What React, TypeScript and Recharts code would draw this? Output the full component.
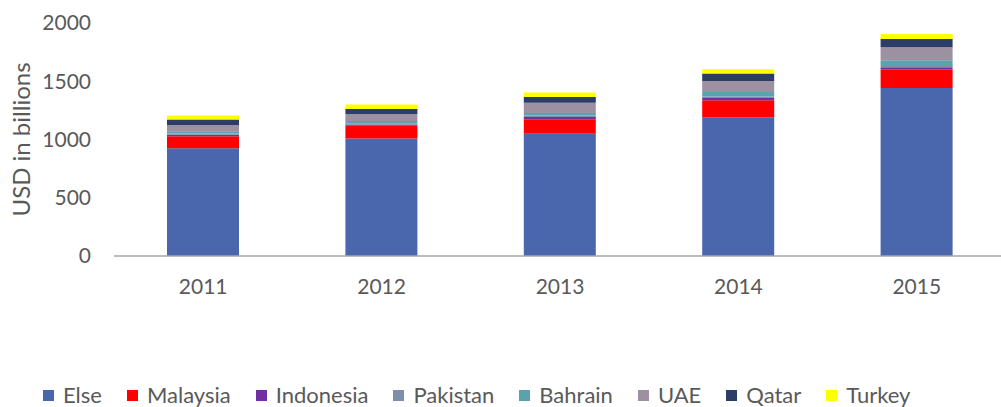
import { BarChart, Bar, XAxis, YAxis, Label } from 'recharts';

const years = ['2011', '2012', '2013', '2014', '2015'];

const elseVals = [925, 1008, 1049, 1191, 1442];
const malaysia = [103, 109, 125, 145, 156];
const indonesia = [12, 12, 20, 20, 23];
const pakistan = [11, 10, 11, 14, 9];
const bahrain = [20, 19, 23, 38, 51];
const uae = [51, 60, 88, 94, 111];
const qatar = [49, 43, 49, 65, 71];
const turkey = [34, 40, 39, 37, 43];

const series = [
  { key: 'Else', values: elseVals, color: '#4A66AC' },
  { key: 'Malaysia', values: malaysia, color: '#FF0000' },
  { key: 'Indonesia', values: indonesia, color: '#7030A0' },
  { key: 'Pakistan', values: pakistan, color: '#7F8FA9' },
  { key: 'Bahrain', values: bahrain, color: '#5AA2AE' },
  { key: 'UAE', values: uae, color: '#9D90A0' },
  { key: 'Qatar', values: qatar, color: '#2C3D67' },
  { key: 'Turkey', values: turkey, color: '#FFFF00' },
];

const yTicks = [0, 500, 1000, 1500, 2000];

const data = years.map((year, i) => {
  const row: Record<string, string | number> = { year };
  series.forEach((s) => {
    row[s.key] = s.values[i];
  });
  return row;
});

const font = 'Lato, "Open Sans", sans-serif';
const textColor = '#595959';

export default function App() {
  return (
    <div
      style={{
        position: 'absolute',
        left: 0,
        top: 0,
        width: 1001,
        height: 407,
        overflow: 'hidden',
        background: '#fff',
        fontFamily: font,
      }}
    >
      <BarChart
        width={1010}
        height={407}
        data={data}
        margin={{ top: 23, right: 4, left: 0, bottom: 0 }}
      >
        <XAxis
          dataKey="year"
          height={151}
          tickLine={false}
          tickSize={0}
          tickMargin={23}
          axisLine={{ stroke: '#A6A6A6', strokeWidth: 1.5 }}
          tick={{ fill: textColor, fontSize: 21, fontFamily: font }}
        />
        <YAxis
          width={114}
          domain={[0, 2000]}
          ticks={yTicks}
          axisLine={false}
          tickLine={false}
          tickSize={0}
          tickMargin={23}
          tick={{ fill: textColor, fontSize: 21, fontFamily: font }}
        >
          <Label
            value="USD in billions"
            angle={-90}
            position="insideLeft"
            offset={21}
            style={{ fill: textColor, fontSize: 24, fontFamily: font, textAnchor: 'middle' }}
          />
        </YAxis>
        {series.map((s) => (
          <Bar
            key={s.key}
            dataKey={s.key}
            stackId="a"
            fill={s.color}
            barSize={72}
            isAnimationActive={false}
          />
        ))}
      </BarChart>
      <div
        style={{
          position: 'absolute',
          left: 43,
          top: 382,
          display: 'flex',
          alignItems: 'center',
          gap: 25,
          fontSize: 22,
          color: textColor,
          lineHeight: '26px',
        }}
      >
        {series.map((s) => (
          <div key={s.key} style={{ display: 'flex', alignItems: 'center', gap: 9 }}>
            <span style={{ width: 11, height: 11, background: s.color, display: 'inline-block' }} />
            <span>{s.key}</span>
          </div>
        ))}
      </div>
    </div>
  );
}
